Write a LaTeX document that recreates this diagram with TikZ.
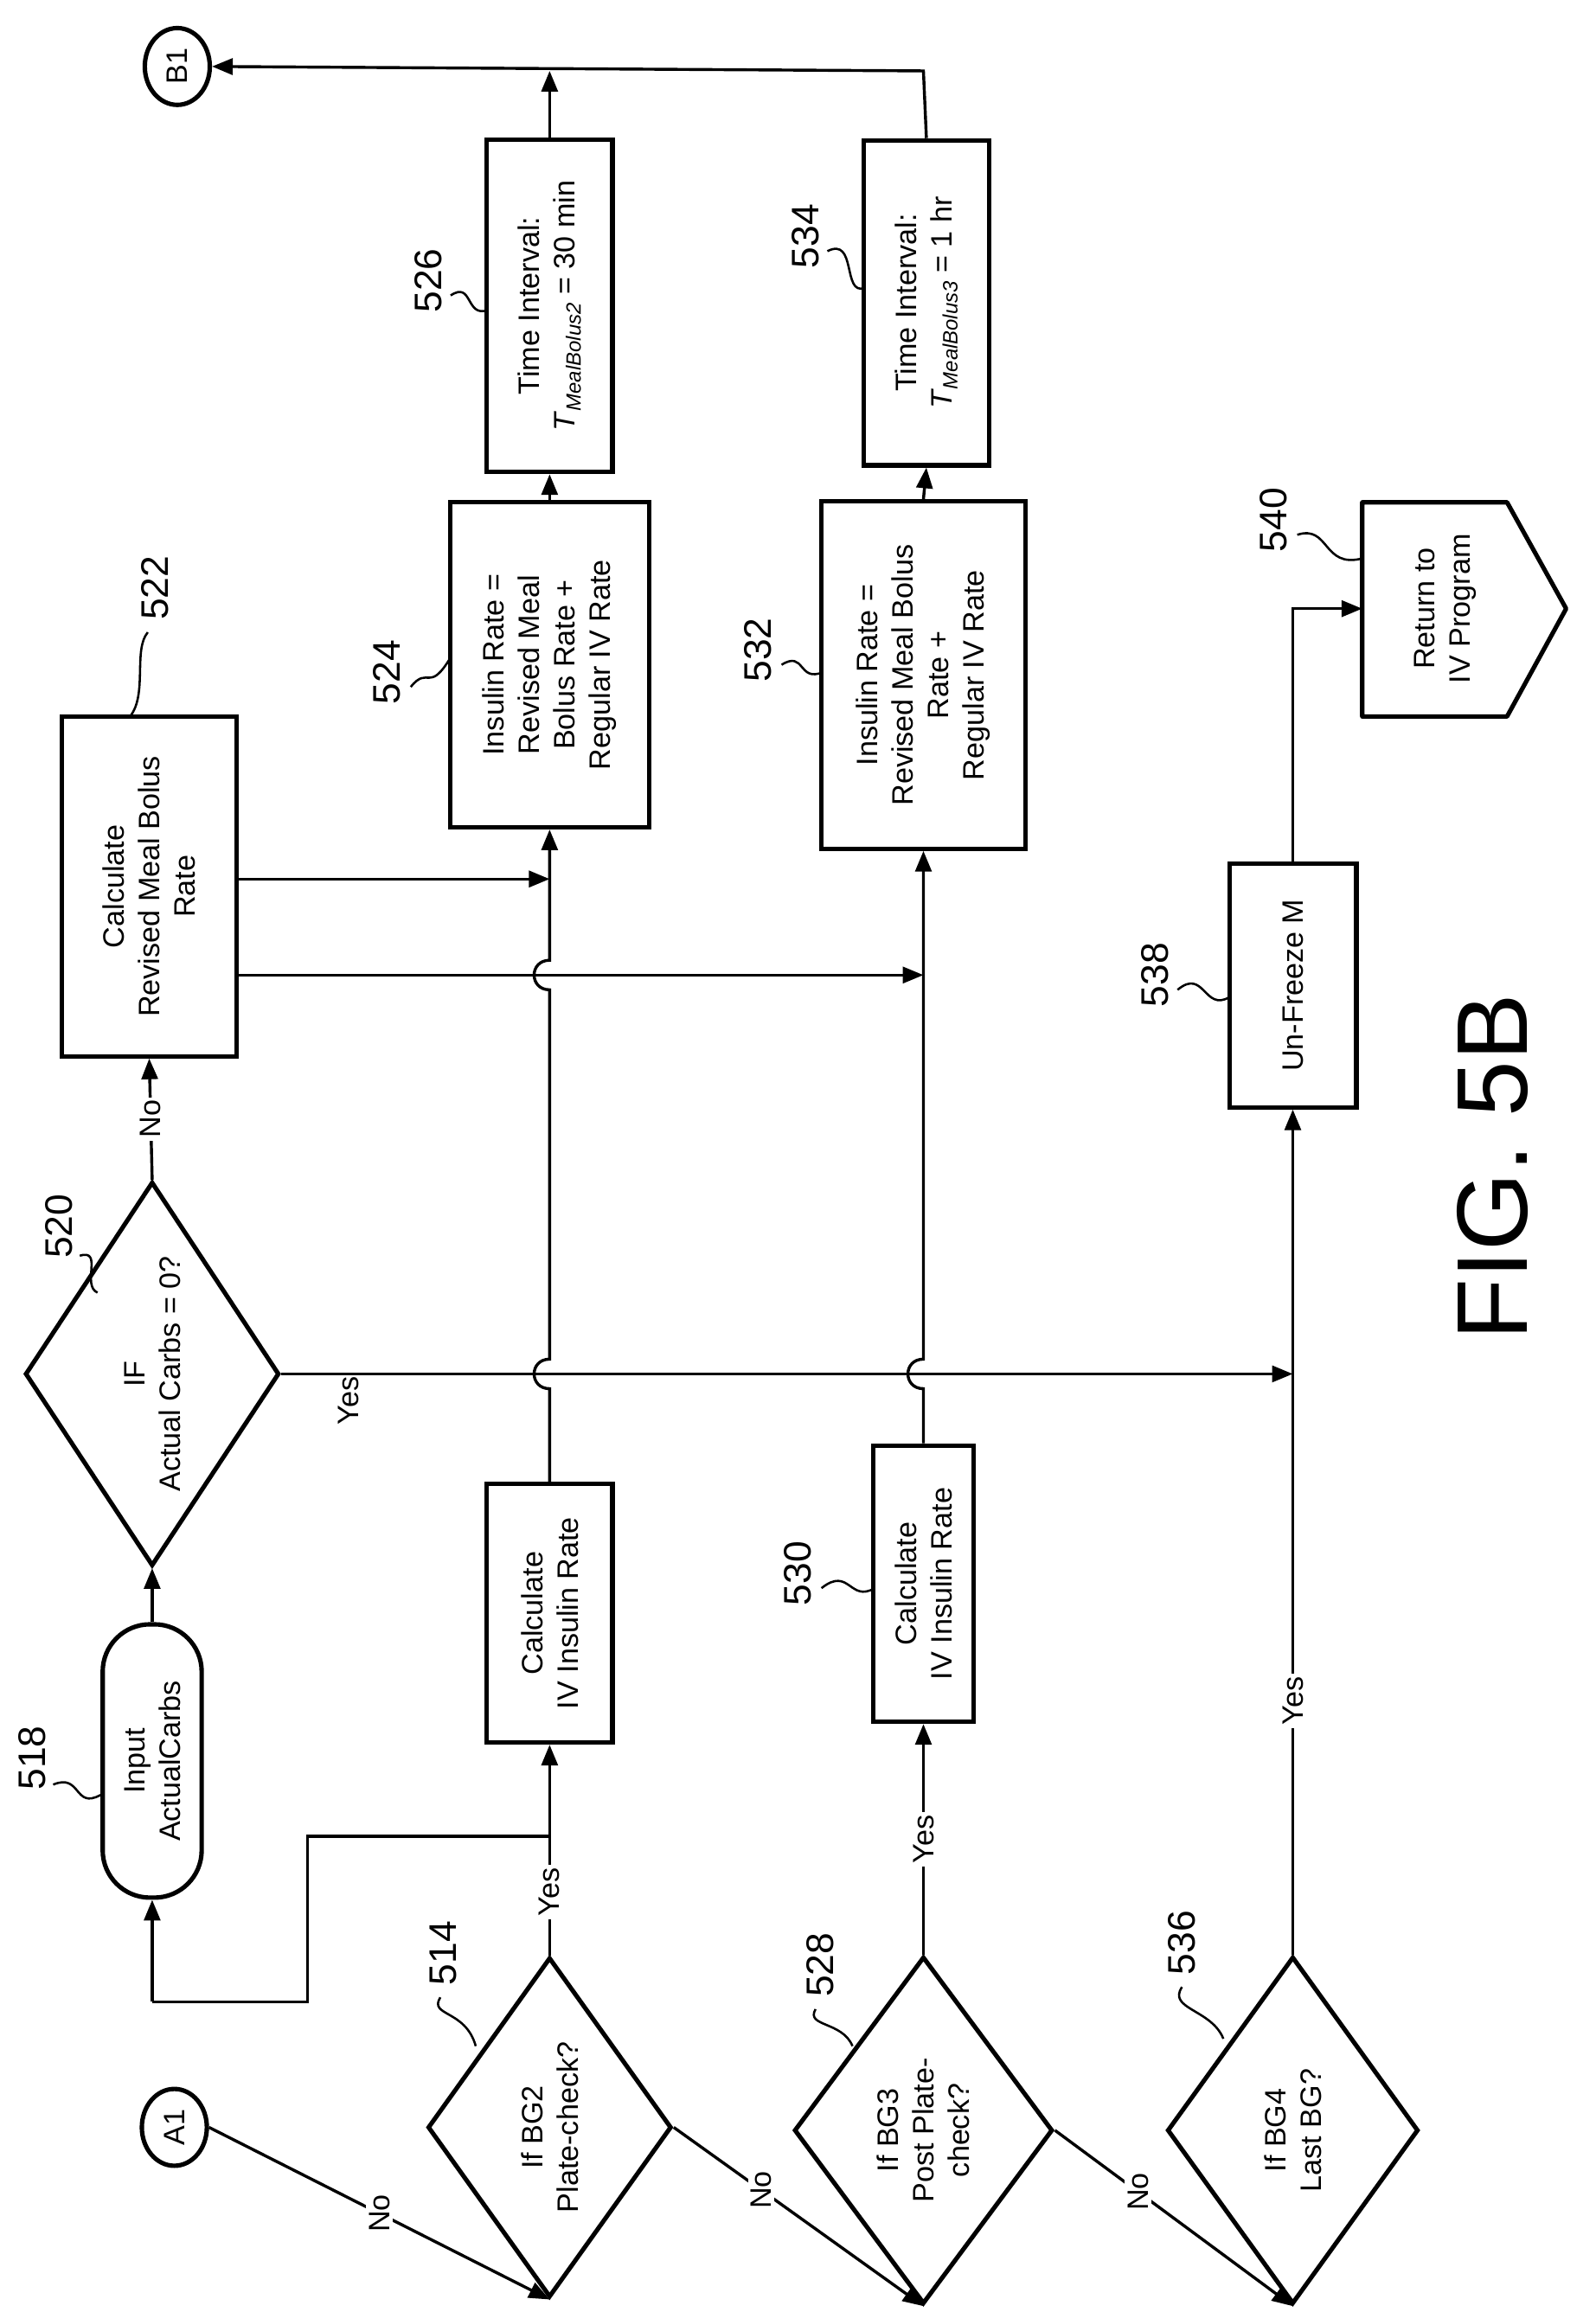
\documentclass[tikz,border=0pt]{standalone}
\usepackage{fontspec}
\setmainfont{Liberation Sans}
\usetikzlibrary{shapes.geometric,arrows.meta}
\begin{document}
\begin{tikzpicture}[x=1pt,y=-1pt,
  every node/.style={font=\fontsize{20}{24}\selectfont},
  box/.style={draw,line width=3pt,rotate=90,align=center,inner sep=0pt,fill=white},
  dia/.style={draw,diamond,line width=3pt,rotate=90,align=center,inner sep=0pt,aspect=1.4},
  conn/.style={draw,ellipse,line width=3pt,rotate=90,inner sep=0pt,minimum width=52,minimum height=44},
  ln/.style={line width=2pt},
  ar/.style={line width=2pt,-{Triangle[length=14pt,width=11pt]}},
  lab/.style={fill=white,rotate=90,inner sep=2pt},
  ref/.style={rotate=90,font=\fontsize{26}{30}\selectfont},
  sq/.style={line width=1.5pt}]
\useasboundingbox (0,0) rectangle (1080,1565);
\newcommand{\Tsub}[1]{\textit{T}\raisebox{-0.35ex}{\fontsize{14}{14}\selectfont\textit{#1}}}
% nodes
\node[conn] (A1) at (118,1440) {A1};
\node[conn] (B1) at (120,45) {B1};
\node[dia,minimum width=230,minimum height=165] (d514) at (372,1440) {If BG2\\Plate-check?};
\node[box,minimum width=175,minimum height=85] (b516) at (372,1092) {Calculate\\IV Insulin Rate};
\node[box,rounded corners=32pt,minimum width=185,minimum height=67] (t518) at (103,1192) {Input\\ActualCarbs};
\node[dia,minimum width=260,minimum height=172] (d520) at (103,930) {IF\\Actual Carbs = 0?};
\node[box,minimum width=230,minimum height=118] (b522) at (101,600) {Calculate\\Revised Meal Bolus\\Rate};
\node[box,minimum width=220,minimum height=135] (b524) at (372,450) {Insulin Rate =\\Revised Meal\\Bolus Rate +\\Regular IV Rate};
\node[box,minimum width=225,minimum height=85] (b526) at (372,207) {Time Interval:\\\Tsub{MealBolus2} = 30 min};
\node[dia,minimum width=235,minimum height=175] (d528) at (625,1442) {If BG3\\Post Plate-\\check?};
\node[box,minimum width=187,minimum height=68] (b530) at (625,1072) {Calculate\\IV Insulin Rate};
\node[box,minimum width=235,minimum height=138] (b532) at (625,457) {Insulin Rate =\\Revised Meal Bolus\\Rate +\\Regular IV Rate};
\node[box,minimum width=220,minimum height=85] (b534) at (627,205) {Time Interval:\\\Tsub{MealBolus3} = 1 hr};
\node[dia,minimum width=235,minimum height=170] (d536) at (875,1442) {If BG4\\Last BG?};
\node[box,minimum width=165,minimum height=86] (b538) at (875,667) {Un-Freeze M};
\draw[line width=3pt,line join=round] (922,485) -- (922,340) -- (1020,340) -- (1060,412) -- (1020,485) -- cycle;
\node[rotate=90,align=center] (p540) at (978,412) {Return to\\IV Program};
\coordinate (e540) at (922,412);
\node[rotate=90,font=\fontsize{68}{70}\selectfont] (fig) at (1010,790) {FIG. 5B};
% coordinates
\coordinate (y1) at (372,1243);
\coordinate (y2) at (208,1243);
\coordinate (y3) at (208,1355);
\coordinate (y4) at (103,1355);
\coordinate (top) at (372,48);
\coordinate (top2) at (625,48);
\coordinate (j522a) at (372,595);
\coordinate (j522b) at (625,660);
\coordinate (jyes) at (875,930);
\coordinate (u540) at (875,412);
% connectors
\draw[ar] (A1.south) -- node[lab]{No} (d514.west);
\draw[ar] (d514.south) -- node[lab,pos=0.35]{No} (d528.west);
\draw[ar] (d528.south) -- node[lab,pos=0.35]{No} (d536.west);
\draw[ar] (d514.east) -- node[lab,pos=0.3]{Yes} (b516.west);
\draw[ln] (y1) -- (y2) -- (y3) -- (y4);
\draw[ar] (y4) -- (t518.west);
\draw[ar] (d528.east) -- node[lab,pos=0.5]{Yes} (b530.west);
\draw[ar] (d536.east) -- node[lab,pos=0.3]{Yes} (b538.west);
\draw[ar] (t518.east) -- (d520.west);
\draw[ar] (d520.east) -- node[lab]{No} (b522.west);
\draw[ar] (d520.south) -- node[rotate=90,below=6pt,anchor=west,pos=0.02] {} (jyes);
\node[rotate=90] (yes520) at (236,948) {Yes};
\draw[ar] (b522.south |- j522a) -- (j522a);
\draw[ar] (b522.south |- j522b) -- (j522b);
\draw[ar] (b516.east) -- (372,940) .. controls (358,940) and (358,920) .. (372,920) -- (372,670) .. controls (358,670) and (358,650) .. (372,650) -- (b524.west);
\draw[ar] (b530.east) -- (625,940) .. controls (611,940) and (611,920) .. (625,920) -- (b532.west);
\draw[ar] (b524.east) -- (b526.west);
\draw[ar] (b532.east) -- (b534.west);
\draw[ar] (b526.east) -- (top);
\draw[ar] (b534.east) -- (top2) -- (B1.south);
\draw[ar] (b538.east) -- (u540) -- (e540);
% reference labels
\node[ref] (r514) at (300,1322) {514};
\draw[sq] (298,1352) .. controls (290,1365) and (315,1360) .. (322,1385);
\node[ref] (r518) at (22,1190) {518};
\draw[sq] (36,1208) .. controls (55,1200) and (50,1225) .. (68,1215);
\node[ref] (r520) at (40,830) {520};
\draw[sq] (54,850) .. controls (70,845) and (55,870) .. (66,875);
\node[ref] (r522) at (105,398) {522};
\draw[sq] (100,428) .. controls (90,440) and (100,470) .. (88,485);
\node[ref] (r524) at (262,455) {524};
\draw[sq] (278,465) .. controls (290,450) and (290,470) .. (305,445);
\node[ref] (r526) at (290,190) {526};
\draw[sq] (305,200) .. controls (320,190) and (315,215) .. (330,210);
\node[ref] (r528) at (555,1330) {528};
\draw[sq] (552,1360) .. controls (545,1372) and (570,1368) .. (577,1385);
\node[ref] (r530) at (540,1065) {530};
\draw[sq] (556,1075) .. controls (575,1060) and (575,1085) .. (592,1075);
\node[ref] (r532) at (513,440) {532};
\draw[sq] (529,450) .. controls (545,440) and (540,462) .. (557,455);
\node[ref] (r534) at (545,160) {534};
\draw[sq] (560,170) .. controls (580,160) and (570,200) .. (585,195);
\node[ref] (r536) at (800,1315) {536};
\draw[sq] (800,1345) .. controls (790,1360) and (820,1360) .. (828,1380);
\node[ref] (r538) at (782,660) {538};
\draw[sq] (797,670) .. controls (815,655) and (815,685) .. (832,675);
\node[ref] (r540) at (862,352) {540};
\draw[sq] (878,362) .. controls (900,355) and (895,385) .. (922,378);
\end{tikzpicture}
\end{document}
